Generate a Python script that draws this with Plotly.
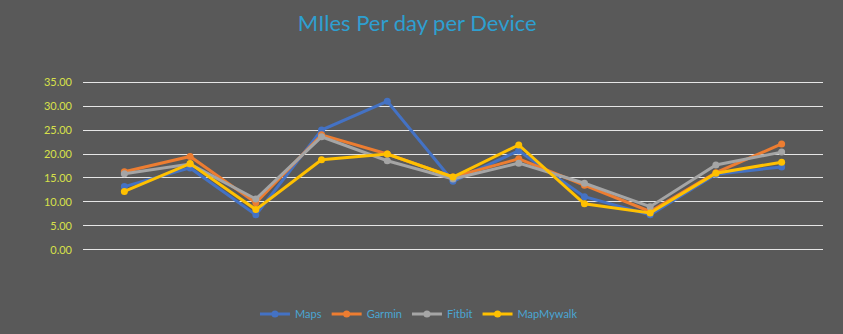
import plotly.graph_objects as go

# Daily mileage recorded by each tracking device (11 days)
days = [str(d) for d in range(1, 12)]
maps = [13.2, 17.1, 7.3, 25.0, 31.0, 14.3, 20.7, 11.1, 7.3, 15.8, 17.3]
garmin = [16.3, 19.5, 9.8, 24.0, 20.0, 15.2, 19.0, 13.5, 8.0, 16.1, 22.1]
fitbit = [15.9, 17.9, 10.6, 23.6, 18.6, 14.8, 18.1, 13.9, 9.0, 17.7, 20.4]
mapmywalk = [12.2, 18.0, 8.4, 18.8, 20.0, 15.2, 21.9, 9.6, 7.7, 16.0, 18.3]

series = [
    ("Maps", maps, "#4472C4"),
    ("Garmin", garmin, "#ED7D31"),
    ("Fitbit", fitbit, "#A5A5A5"),
    ("MapMywalk", mapmywalk, "#FFC000"),
]

fig = go.Figure()
for name, vals, color in series:
    fig.add_trace(go.Scatter(
        x=days, y=vals, name=name, mode="lines+markers",
        line=dict(color=color, width=3),
        marker=dict(color=color, size=7),
    ))

bg = "#595959"
pad = 0.25  # small headroom so the 0 and 35 gridlines are drawn
fig.update_layout(
    width=843, height=334,
    paper_bgcolor=bg, plot_bgcolor=bg,
    margin=dict(l=83, r=20, t=81, b=83),
    font=dict(family="Lato, Open Sans, sans-serif"),
    title=dict(
        text="MIles Per day per Device",
        font=dict(size=22, color="#2E9FD0"),
        x=0.495, xref="container", xanchor="center",
        y=1 - 23 / 334, yref="container", yanchor="middle",
    ),
    legend=dict(
        orientation="h",
        x=0.497, xref="container", xanchor="center",
        y=1 - 314 / 334, yref="container", yanchor="middle",
        font=dict(size=11, color="#4AA6D4"),
        bgcolor="rgba(0,0,0,0)",
        itemwidth=30,
    ),
    showlegend=True,
)
fig.update_xaxes(
    type="category", showgrid=False, showticklabels=False,
    zeroline=False, showline=False, ticks="",
)
fig.update_yaxes(
    range=[-pad, 35 + pad], tickvals=[0, 5, 10, 15, 20, 25, 30, 35],
    tickformat=".2f",
    showgrid=True, gridcolor="#E6E6E6", gridwidth=1,
    zeroline=False, showline=False,
    tickfont=dict(size=11, color="#D7E04A"),
    ticks="", ticklabelstandoff=10,
)

fig.write_html("out.html")
